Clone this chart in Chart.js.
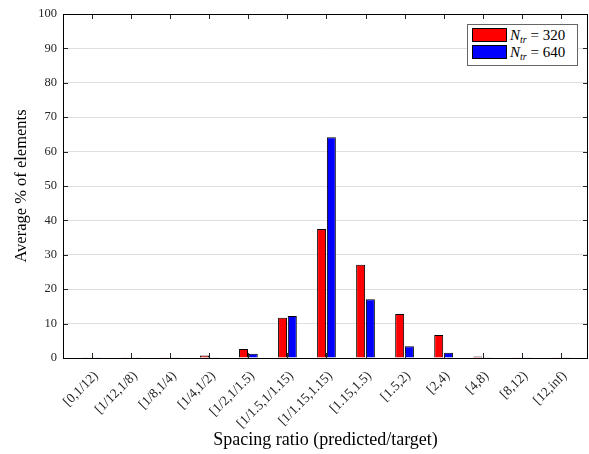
<!DOCTYPE html>
<html>
<head>
<meta charset="utf-8">
<script src="https://cdn.jsdelivr.net/npm/chart.js@4/dist/chart.umd.min.js"></script>
<style>
  body { margin: 0; background: #fff; }
  #wrap { position: relative; width: 589px; height: 454px; }
  #legend {
    position: absolute; left: 467px; top: 24px; width: 109px; height: 40px;
    border: 1px solid #666; background: #fff;
    font-family: "Liberation Serif", serif; font-size: 15px; color: #000;
  }
  .row { position: absolute; left: 4px; height: 14px; line-height: 14px; white-space: nowrap; }
  .sw { display: inline-block; width: 33px; height: 12px; border: 1px solid #000; vertical-align: top; margin-right: 3px; }
  sub { font-size: 10px; font-style: italic; vertical-align: -3px; line-height: 0; }
</style>
</head>
<body>
<div id="wrap">
  <canvas id="chart" width="589" height="454"></canvas>
  <div id="legend">
    <div class="row" style="top:3px"><span class="sw" style="background:#ff0000"></span><i>N</i><sub>tr</sub> = 320</div>
    <div class="row" style="top:20px"><span class="sw" style="background:#0000ff"></span><i>N</i><sub>tr</sub> = 640</div>
  </div>
</div>
<script>
const ratioLabels = ['[0,1/12)', '[1/12,1/8)', '[1/8,1/4)', '[1/4,1/2)', '[1/2,1/1.5)', '[1/1.5,1/1.15)',
    '[1/1.15,1.15)', '[1.15,1.5)', '[1.5,2)', '[2,4)', '[4,8)', '[8,12)', '[12,inf)'];
const n320 = [0.05, 0.05, 0.05, 0.7, 2.6, 11.7, 37.5, 27.1, 12.8, 6.7, 0.4, 0.05, 0.05];
const n640 = [0.05, 0.05, 0.05, 0.2, 1.2, 12.2, 64.2, 17.1, 3.4, 1.5, 0.1, 0.05, 0.2];
const yTicks = [0, 10, 20, 30, 40, 50, 60, 70, 80, 90, 100];

const serif = '"Liberation Serif", serif';

// box round the plot plus inward tick marks, like the original figure
const boxTicks = {
    id: 'boxTicks',
    afterDatasetsDraw(chart) {
        const { ctx, chartArea: a, scales } = chart;
        ctx.save();
        ctx.strokeStyle = '#262626';
        ctx.lineWidth = 1;
        ctx.beginPath();
        scales.y.ticks.forEach(t => {
            const py = Math.round(scales.y.getPixelForValue(t.value)) + 0.5;
            ctx.moveTo(a.left, py); ctx.lineTo(a.left + 5, py);
            ctx.moveTo(a.right, py); ctx.lineTo(a.right - 5, py);
        });
        scales.x.ticks.forEach(t => {
            const px = Math.round(scales.x.getPixelForValue(t.value)) + 0.5;
            ctx.moveTo(px, a.bottom); ctx.lineTo(px, a.bottom - 5);
            ctx.moveTo(px, a.top); ctx.lineTo(px, a.top + 5);
        });
        ctx.stroke();
        ctx.strokeStyle = '#000';
        ctx.strokeRect(Math.round(a.left) + 0.5, Math.round(a.top) + 0.5,
            Math.round(a.right - a.left) - 1, Math.round(a.bottom - a.top));
        ctx.restore();
    }
};

new Chart(document.getElementById('chart'), {
    type: 'bar',
    data: {
        datasets: [
            { label: 'N_tr = 320', data: n320.map((v, i) => ({ x: i, y: v })),
              backgroundColor: '#ff0000', borderColor: '#000', borderWidth: 1 },
            { label: 'N_tr = 640', data: n640.map((v, i) => ({ x: i, y: v })),
              backgroundColor: '#0000ff', borderColor: '#000', borderWidth: 1 }
        ]
    },
    options: {
        responsive: false,
        animation: false,
        layout: { padding: { top: 14, right: 1, left: 0, bottom: 0 } },
        datasets: { bar: { categoryPercentage: 0.5, barPercentage: 0.92 } },
        scales: {
            x: {
                type: 'linear',
                offset: false,
                min: -0.75,
                max: 12.7,
                afterBuildTicks: s => { s.ticks = ratioLabels.map((_, i) => ({ value: i })); },
                afterFit: s => { s.height = 96; },
                grid: { display: false },
                border: { display: false },
                ticks: {
                    autoSkip: false, minRotation: 45, maxRotation: 45, padding: 2, labelOffset: 4,
                    color: '#262626', font: { family: serif, size: 13.5 },
                    callback: v => ratioLabels[v]
                },
                title: {
                    display: true, text: 'Spacing ratio (predicted/target)',
                    color: '#000', font: { family: serif, size: 18 }, padding: { top: 0, bottom: 3 }
                }
            },
            y: {
                min: 0,
                max: 100,
                afterBuildTicks: s => { s.ticks = yTicks.map(v => ({ value: v })); },
                afterFit: s => { s.width = 63; },
                grid: {
                    color: ctx => (ctx.tick.value === 0 || ctx.tick.value === 100) ? 'rgba(0,0,0,0)' : '#dfdfdf',
                    drawTicks: false
                },
                border: { display: false },
                ticks: { padding: 6, color: '#262626', font: { family: serif, size: 12.5 } },
                title: {
                    display: true, text: 'Average % of elements',
                    color: '#000', font: { family: serif, size: 16.5 }, padding: { top: 12, bottom: 4 }
                }
            }
        },
        plugins: {
            legend: { display: false },
            tooltip: { enabled: false }
        }
    },
    plugins: [boxTicks]
});
</script>
</body>
</html>
